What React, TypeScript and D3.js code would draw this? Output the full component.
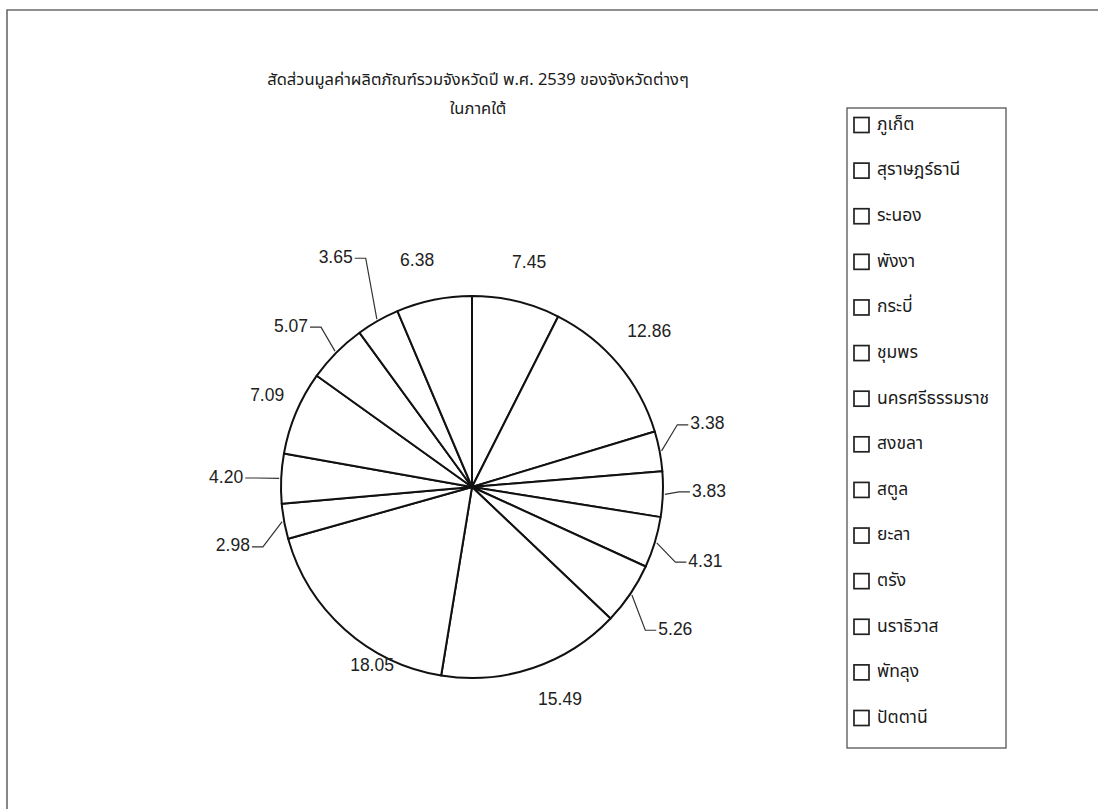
import React from "react";
import * as d3 from "d3";

const provinces = [
  "ภูเก็ต",
  "สุราษฎร์ธานี",
  "ระนอง",
  "พังงา",
  "กระบี่",
  "ชุมพร",
  "นครศรีธรรมราช",
  "สงขลา",
  "สตูล",
  "ยะลา",
  "ตรัง",
  "นราธิวาส",
  "พัทลุง",
  "ปัตตานี",
];
const shares = [7.45, 12.86, 3.38, 3.83, 4.31, 5.26, 15.49, 18.05, 2.98, 4.2, 7.09, 5.07, 3.65, 6.38];
const titleLines = ["สัดส่วนมูลค่าผลิตภัณฑ์รวมจังหวัดปี พ.ศ. 2539 ของจังหวัดต่างๆ", "ในภาคใต้"];

// label layout tweaks (angle shift in degrees, radial distance from centre)
const labelAngleShift = [0.9, -1.0, -5.1, -0.9, 2.3, 3.5, -3.8, -12.6, -4.7, -0.3, 1.0, -0.5, 2.0, -2.2];
const labelRadius = [231, 235, 227, 220, 229, 235, 231, 205, 230, 229, 224, 229, 258, 232];

const W = 1098;
const H = 809;
const cx = 472;
const cy = 487;
const R = 191;

const thaiFont = "'Noto Sans Thai', 'Tahoma', 'Loma', 'Garuda', 'Liberation Sans', sans-serif";
const numFont = "'Liberation Sans', Arial, sans-serif";

export default function App() {
  const pie = d3
    .pie<number>()
    .sort(null)
    .value((d) => d)
    .startAngle(0)
    .endAngle(2 * Math.PI);
  const arcs = pie(shares);
  const arc = d3.arc<d3.PieArcDatum<number>>().innerRadius(0).outerRadius(R);

  const polar = (deg: number, r: number): [number, number] => {
    const a = (deg * Math.PI) / 180;
    return [cx + r * Math.sin(a), cy - r * Math.cos(a)];
  };

  const legendX = 847;
  const legendTop = 108;
  const legendBottom = 748;
  const legendW = 159;
  const itemY = d3.scalePoint<string>().domain(provinces).range([125, 718]);

  return (
    <svg width={W} height={H} style={{ position: "absolute", left: 0, top: 0, background: "#fff" }}>
      <rect x={0} y={0} width={W} height={H} fill="#fff" />
      {/* frame */}
      <path d={`M7,${H} L7,10 L${W},10`} fill="none" stroke="#6a6a6a" strokeWidth={1.6} />

      {/* title */}
      {titleLines.map((t, i) => (
        <text
          key={i}
          x={478}
          y={80 + i * 29}
          textAnchor="middle"
          dominantBaseline="middle"
          fontFamily={thaiFont}
          fontSize={16.5}
          fill="#1a1a1a"
        >
          {t}
        </text>
      ))}

      {/* pie */}
      <g transform={`translate(${cx},${cy})`}>
        {arcs.map((a, i) => (
          <path key={i} d={arc(a) || ""} fill="#fff" stroke="#111" strokeWidth={2} strokeLinejoin="round" />
        ))}
      </g>

      {/* labels */}
      {arcs.map((a, i) => {
        const mid = (((a.startAngle + a.endAngle) / 2) * 180) / Math.PI;
        const ang = mid + labelAngleShift[i];
        const [lx, ly] = polar(ang, labelRadius[i]);
        const v = shares[i];
        const leader = v < 6 && i !== 7;
        const right = Math.sin((ang * Math.PI) / 180) > 0;
        const txt = v.toFixed(2);
        if (!leader) {
          return (
            <text key={i} x={lx} y={ly} textAnchor="middle" dominantBaseline="middle" fontFamily={numFont} fontSize={17.5} fill="#222">
              {txt}
            </text>
          );
        }
        const [ex, ey] = polar(mid, R + 2);
        const sgn = right ? 1 : -1;
        const bx = lx - sgn * 13;
        const tx = lx - sgn * 2;
        return (
          <g key={i}>
            <polyline points={`${ex},${ey} ${bx},${ly} ${tx},${ly}`} fill="none" stroke="#333" strokeWidth={1.2} />
            <text x={lx} y={ly} textAnchor={right ? "start" : "end"} dominantBaseline="middle" fontFamily={numFont} fontSize={17.5} fill="#222">
              {txt}
            </text>
          </g>
        );
      })}

      {/* legend */}
      <rect x={legendX} y={legendTop} width={legendW} height={legendBottom - legendTop} fill="#fff" stroke="#555" strokeWidth={1.3} />
      {provinces.map((p) => {
        const y = itemY(p) as number;
        return (
          <g key={p}>
            <rect x={854} y={y - 7.5} width={15} height={15} fill="#fff" stroke="#222" strokeWidth={1.7} />
            <text x={877} y={y} dominantBaseline="middle" fontFamily={thaiFont} fontSize={17.5} fill="#1a1a1a">
              {p}
            </text>
          </g>
        );
      })}
    </svg>
  );
}
